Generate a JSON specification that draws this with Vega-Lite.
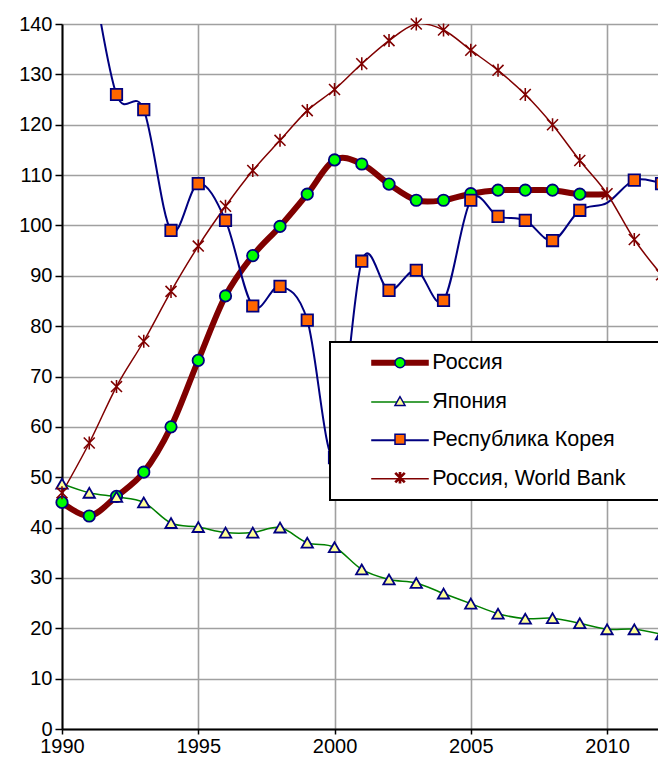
{
  "$schema": "https://vega.github.io/schema/vega-lite/v6.json",
  "width": 596,
  "height": 705,
  "autosize": {"type": "none"},
  "padding": {"left": 62, "top": 24, "right": 0, "bottom": 33},
  "background": "white",
  "config": {
    "view": {"stroke": null},
    "font": "Liberation Sans",
    "axis": {
      "title": null,
      "labelFont": "Liberation Sans",
      "labelFontSize": 20,
      "labelColor": "black",
      "tickColor": "black",
      "tickWidth": 1.5,
      "domainColor": "black",
      "domainWidth": 2,
      "gridColor": "#a0a0a0",
      "gridWidth": 1.6,
      "labelFlush": false,
      "labelOverlap": false
    }
  },
  "data": {
    "values": [
      {"year": 1990, "series": "Россия", "value": 45},
      {"year": 1991, "series": "Россия", "value": 42.3},
      {"year": 1992, "series": "Россия", "value": 46.2},
      {"year": 1993, "series": "Россия", "value": 51},
      {"year": 1994, "series": "Россия", "value": 60},
      {"year": 1995, "series": "Россия", "value": 73.2},
      {"year": 1996, "series": "Россия", "value": 86},
      {"year": 1997, "series": "Россия", "value": 94},
      {"year": 1998, "series": "Россия", "value": 99.8},
      {"year": 1999, "series": "Россия", "value": 106.2},
      {"year": 2000, "series": "Россия", "value": 113},
      {"year": 2001, "series": "Россия", "value": 112.2},
      {"year": 2002, "series": "Россия", "value": 108.2},
      {"year": 2003, "series": "Россия", "value": 105},
      {"year": 2004, "series": "Россия", "value": 105},
      {"year": 2005, "series": "Россия", "value": 106.3},
      {"year": 2006, "series": "Россия", "value": 107},
      {"year": 2007, "series": "Россия", "value": 107},
      {"year": 2008, "series": "Россия", "value": 107},
      {"year": 2009, "series": "Россия", "value": 106.2},
      {"year": 2010, "series": "Россия", "value": 106.2},
      {"year": 1990, "series": "Япония", "value": 48.7},
      {"year": 1991, "series": "Япония", "value": 46.9},
      {"year": 1992, "series": "Япония", "value": 46.1},
      {"year": 1993, "series": "Япония", "value": 45},
      {"year": 1994, "series": "Япония", "value": 40.9},
      {"year": 1995, "series": "Япония", "value": 40.1},
      {"year": 1996, "series": "Япония", "value": 39},
      {"year": 1997, "series": "Япония", "value": 39},
      {"year": 1998, "series": "Япония", "value": 40},
      {"year": 1999, "series": "Япония", "value": 37},
      {"year": 2000, "series": "Япония", "value": 36.1},
      {"year": 2001, "series": "Япония", "value": 31.7},
      {"year": 2002, "series": "Япония", "value": 29.7},
      {"year": 2003, "series": "Япония", "value": 29},
      {"year": 2004, "series": "Япония", "value": 26.9},
      {"year": 2005, "series": "Япония", "value": 24.9},
      {"year": 2006, "series": "Япония", "value": 22.9},
      {"year": 2007, "series": "Япония", "value": 21.9},
      {"year": 2008, "series": "Япония", "value": 22},
      {"year": 2009, "series": "Япония", "value": 21},
      {"year": 2010, "series": "Япония", "value": 19.8},
      {"year": 2011, "series": "Япония", "value": 19.8},
      {"year": 2012, "series": "Япония", "value": 18.8},
      {"year": 1990, "series": "Республика Корея", "value": 170},
      {"year": 1991, "series": "Республика Корея", "value": 152},
      {"year": 1992, "series": "Республика Корея", "value": 126},
      {"year": 1993, "series": "Республика Корея", "value": 123},
      {"year": 1994, "series": "Республика Корея", "value": 99},
      {"year": 1995, "series": "Республика Корея", "value": 108.3},
      {"year": 1996, "series": "Республика Корея", "value": 101},
      {"year": 1997, "series": "Республика Корея", "value": 84},
      {"year": 1998, "series": "Республика Корея", "value": 87.9},
      {"year": 1999, "series": "Республика Корея", "value": 81.2},
      {"year": 2000, "series": "Республика Корея", "value": 53.9},
      {"year": 2001, "series": "Республика Корея", "value": 92.9},
      {"year": 2002, "series": "Республика Корея", "value": 87.1},
      {"year": 2003, "series": "Республика Корея", "value": 91.1},
      {"year": 2004, "series": "Республика Корея", "value": 85.1},
      {"year": 2005, "series": "Республика Корея", "value": 105},
      {"year": 2006, "series": "Республика Корея", "value": 101.8},
      {"year": 2007, "series": "Республика Корея", "value": 101},
      {"year": 2008, "series": "Республика Корея", "value": 97},
      {"year": 2009, "series": "Республика Корея", "value": 103},
      {"year": 2010, "series": "Республика Корея", "value": 104.5},
      {"year": 2011, "series": "Республика Корея", "value": 109},
      {"year": 2012, "series": "Республика Корея", "value": 108.3},
      {"year": 1990, "series": "Россия, World Bank", "value": 46.9},
      {"year": 1991, "series": "Россия, World Bank", "value": 56.8},
      {"year": 1992, "series": "Россия, World Bank", "value": 68},
      {"year": 1993, "series": "Россия, World Bank", "value": 77},
      {"year": 1994, "series": "Россия, World Bank", "value": 86.9},
      {"year": 1995, "series": "Россия, World Bank", "value": 95.9},
      {"year": 1996, "series": "Россия, World Bank", "value": 103.8},
      {"year": 1997, "series": "Россия, World Bank", "value": 110.9},
      {"year": 1998, "series": "Россия, World Bank", "value": 116.9},
      {"year": 1999, "series": "Россия, World Bank", "value": 122.8},
      {"year": 2000, "series": "Россия, World Bank", "value": 127},
      {"year": 2001, "series": "Россия, World Bank", "value": 132.1},
      {"year": 2002, "series": "Россия, World Bank", "value": 136.7},
      {"year": 2003, "series": "Россия, World Bank", "value": 140},
      {"year": 2004, "series": "Россия, World Bank", "value": 138.8},
      {"year": 2005, "series": "Россия, World Bank", "value": 134.8},
      {"year": 2006, "series": "Россия, World Bank", "value": 130.8},
      {"year": 2007, "series": "Россия, World Bank", "value": 126},
      {"year": 2008, "series": "Россия, World Bank", "value": 120},
      {"year": 2009, "series": "Россия, World Bank", "value": 112.9},
      {"year": 2010, "series": "Россия, World Bank", "value": 106.3},
      {"year": 2011, "series": "Россия, World Bank", "value": 97.2},
      {"year": 2012, "series": "Россия, World Bank", "value": 90.2}
    ]
  },
  "layer": [
    {
      "mark": {"type": "line", "interpolate": "cardinal", "clip": true},
      "encoding": {
        "x": {
          "field": "year", "type": "quantitative",
          "scale": {"domain": [1990, 2011.87], "nice": false, "zero": false},
          "axis": {"values": [1990, 1995, 2000, 2005, 2010], "format": "d", "tickSize": 5, "labelPadding": 2, "grid": true}
        },
        "y": {
          "field": "value", "type": "quantitative",
          "scale": {"domain": [0, 140], "nice": false},
          "axis": {
            "values": [0, 5, 10, 15, 20, 25, 30, 35, 40, 45, 50, 55, 60, 65, 70, 75, 80, 85, 90, 95, 100, 105, 110, 115, 120, 125, 130, 135, 140],
            "labelExpr": "datum.value % 10 === 0 ? datum.label : ''",
            "tickSize": {"condition": {"test": "datum.value % 10 === 0", "value": 7}, "value": 5},
            "gridOpacity": {"condition": {"test": "datum.value % 10 === 0", "value": 1}, "value": 0},
            "labelPadding": 3,
            "grid": true
          }
        },
        "color": {
          "field": "series", "type": "nominal",
          "sort": ["Россия", "Япония", "Республика Корея", "Россия, World Bank"],
          "scale": {"range": ["#800000", "#008000", "#000080", "#800000"]},
          "legend": {
            "title": null,
            "orient": "none",
            "legendX": 268,
            "legendY": 318,
            "padding": 10,
            "rowPadding": 15.3,
            "symbolType": "M-4.7,0H4.7",
            "symbolSize": 150,
            "symbolOffset": 49.25,
            "labelOffset": 21.5,
            "labelFont": "Liberation Sans",
            "labelFontSize": 21.5,
            "labelColor": "black",
            "labelLimit": 400,
            "labelExpr": "datum.label + '\u2003\u2009\u200b'",
            "strokeColor": "black",
            "fillColor": "white",
            "encode": {
              "legend": {"update": {"strokeWidth": {"value": 2}}},
              "symbols": {"update": {"strokeWidth": {"signal": "datum.value === 'Россия' ? 6 : datum.value === 'Республика Корея' ? 2 : 1.5"}, "fill": {"value": "transparent"}}}
            }
          }
        },
        "strokeWidth": {
          "condition": [
            {"test": "datum.series === 'Россия'", "value": 6},
            {"test": "datum.series === 'Республика Корея'", "value": 2}
          ],
          "value": 1.5
        }
      }
    },
    {
      "transform": [
        {"filter": "!(datum.year === 2010 && (datum.series === 'Россия' || datum.series === 'Республика Корея'))"}
      ],
      "mark": {"type": "point", "filled": true, "opacity": 1, "strokeWidth": 1.8},
      "encoding": {
        "x": {"field": "year", "type": "quantitative"},
        "y": {"field": "value", "type": "quantitative"},
        "shape": {
          "field": "series", "type": "nominal",
          "scale": {
            "domain": ["Россия", "Япония", "Республика Корея", "Россия, World Bank"],
            "range": ["circle", "triangle-up", "square", "M-0.12,-1L0.12,-1L0.12,1L-0.12,1ZM-0.76,-0.93L0.93,0.76L0.76,0.93L-0.93,-0.76ZM-0.93,0.76L0.76,-0.93L0.93,-0.76L-0.76,0.93Z"]
          },
          "legend": {
            "title": null,
            "orient": "none",
            "legendX": 268,
            "legendY": 318,
            "padding": 10,
            "rowPadding": 15.3,
            "symbolOffset": 49.25,
            "labelFontSize": 21.5,
            "labelExpr": "''",
            "encode": {
              "symbols": {"update": {
                "size": {"signal": "datum.value === 'Россия, World Bank' ? 169 : 130"},
                "strokeWidth": {"value": 1.8},
                "strokeOpacity": {"signal": "datum.value === 'Россия, World Bank' ? 0 : 1"},
                "opacity": {"value": 1}
              }}
            }
          }
        },
        "fill": {
          "field": "series", "type": "nominal",
          "scale": {
            "domain": ["Россия", "Япония", "Республика Корея", "Россия, World Bank"],
            "range": ["#00ff00", "#ffff99", "#ff6600", "#800000"]
          }
        },
        "stroke": {
          "field": "series", "type": "nominal",
          "scale": {
            "domain": ["Россия", "Япония", "Республика Корея", "Россия, World Bank"],
            "range": ["#000080", "#000080", "#000080", "#800000"]
          }
        },
        "strokeOpacity": {
          "condition": {"test": "datum.series === 'Россия, World Bank'", "value": 0},
          "value": 1
        },
        "size": {
          "condition": {"test": "datum.series === 'Россия, World Bank'", "value": 169},
          "value": 130
        }
      }
    }
  ]
}
